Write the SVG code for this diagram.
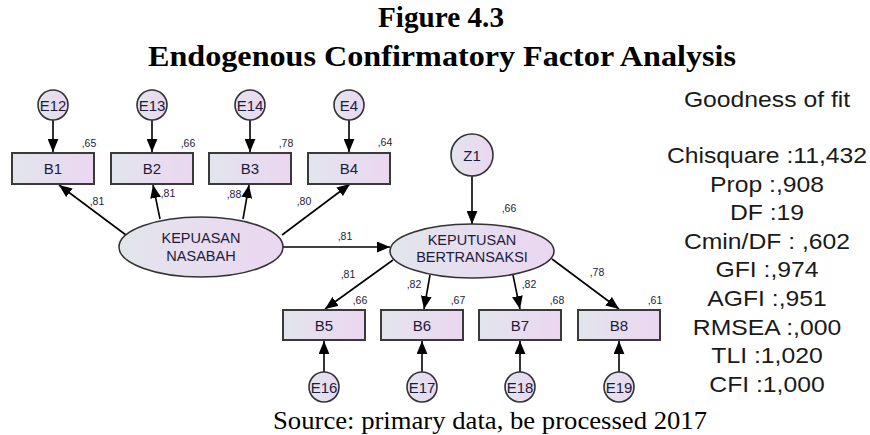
<svg xmlns="http://www.w3.org/2000/svg" width="870" height="435" viewBox="0 0 870 435">
  <defs>
    <linearGradient id="fillGrad" x1="0" y1="0" x2="1" y2="0">
      <stop offset="0" stop-color="#e2e5ec"/>
      <stop offset="1" stop-color="#ebd6f1"/>
    </linearGradient>
    <marker id="arrow" viewBox="0 0 12 10" refX="12" refY="5" markerWidth="13" markerHeight="11" markerUnits="userSpaceOnUse" orient="auto">
      <path d="M0,0 L12,5 L0,10 Z" fill="#000"/>
    </marker>
    <style>
      .box { fill: url(#fillGrad); stroke: #3a3a3a; stroke-width: 2; }
      .lat { fill: url(#fillGrad); stroke: #333; stroke-width: 1.6; }
      .err { fill: url(#fillGrad); stroke: #333; stroke-width: 1.6; }
      .lbl { font-family: "Liberation Sans", Arial, sans-serif; font-size: 15px; fill: #1c1c3a; text-anchor: middle; }
      .lat-lbl { font-family: "Liberation Sans", Arial, sans-serif; font-size: 14.5px; fill: #1c1c3a; text-anchor: middle; }
      .num { font-family: "Liberation Sans", Arial, sans-serif; font-size: 10.5px; fill: #1c1c3a; text-anchor: middle; }
      .edge { stroke: #000; stroke-width: 1.6; fill: none; marker-end: url(#arrow); }
      .title { font-family: "Liberation Serif", "Times New Roman", serif; font-weight: bold; font-size: 30px; fill: #000; text-anchor: middle; }
      .src { font-family: "Liberation Serif", "Times New Roman", serif; font-size: 25px; fill: #000; text-anchor: middle; }
      .fit { font-family: "Liberation Sans", Arial, sans-serif; font-size: 21.5px; fill: #1a1a1a; text-anchor: middle; }
    </style>
  </defs>

  <rect width="870" height="435" fill="#fff"/>

  <!-- Heading -->
  <text class="title" x="441" y="27" textLength="126" lengthAdjust="spacingAndGlyphs">Figure 4.3</text>
  <text class="title" x="442" y="66" font-size="31" textLength="588" lengthAdjust="spacingAndGlyphs">Endogenous Confirmatory Factor Analysis</text>

  <!-- Connectors -->
  <g id="connectors">
    <!-- error terms to top indicators -->
    <line class="edge" x1="53" y1="120" x2="53" y2="152"/>
    <line class="edge" x1="152" y1="120" x2="152" y2="152"/>
    <line class="edge" x1="250" y1="120" x2="250" y2="152"/>
    <line class="edge" x1="349" y1="120" x2="349" y2="152"/>
    <!-- KEPUASAN NASABAH loadings -->
    <line class="edge" x1="130" y1="238" x2="59" y2="185"/>
    <line class="edge" x1="160" y1="219" x2="153" y2="185"/>
    <line class="edge" x1="243" y1="219" x2="249" y2="185"/>
    <line class="edge" x1="282" y1="235" x2="350" y2="184"/>
    <!-- structural path -->
    <line class="edge" x1="283" y1="247" x2="390" y2="247"/>
    <!-- disturbance -->
    <line class="edge" x1="472" y1="176" x2="472" y2="224"/>
    <!-- KEPUTUSAN BERTRANSAKSI loadings -->
    <line class="edge" x1="393" y1="260" x2="325" y2="309"/>
    <line class="edge" x1="430" y1="275" x2="424" y2="309"/>
    <line class="edge" x1="513" y1="275" x2="520" y2="309"/>
    <line class="edge" x1="552" y1="259" x2="619" y2="309"/>
    <!-- error terms to bottom indicators -->
    <line class="edge" x1="324" y1="372" x2="324" y2="341"/>
    <line class="edge" x1="422" y1="372" x2="422" y2="341"/>
    <line class="edge" x1="520" y1="372" x2="520" y2="341"/>
    <line class="edge" x1="619" y1="372" x2="619" y2="341"/>
  </g>

  <!-- Path coefficients -->
  <g id="coefficients">
    <text class="num" x="97" y="205">,81</text>
    <text class="num" x="168" y="197">,81</text>
    <text class="num" x="234" y="198">,88</text>
    <text class="num" x="304" y="205">,80</text>
    <text class="num" x="345" y="240">,81</text>
    <text class="num" x="348" y="278">,81</text>
    <text class="num" x="414" y="288">,82</text>
    <text class="num" x="529" y="288">,82</text>
    <text class="num" x="597" y="276">,78</text>
    <!-- squared multiple correlations -->
    <text class="num" x="89" y="147">,65</text>
    <text class="num" x="188" y="147">,66</text>
    <text class="num" x="286" y="147">,78</text>
    <text class="num" x="385" y="146">,64</text>
    <text class="num" x="509" y="212">,66</text>
    <text class="num" x="360" y="304">,66</text>
    <text class="num" x="458" y="304">,67</text>
    <text class="num" x="557" y="304">,68</text>
    <text class="num" x="655" y="304">,61</text>
  </g>

  <!-- Top error terms -->
  <g id="E12"><circle class="err" cx="53" cy="105" r="15"/><text class="lbl" x="53" y="110.5">E12</text></g>
  <g id="E13"><circle class="err" cx="152" cy="105" r="15"/><text class="lbl" x="152" y="110.5">E13</text></g>
  <g id="E14"><circle class="err" cx="250" cy="105" r="15"/><text class="lbl" x="250" y="110.5">E14</text></g>
  <g id="E4"><circle class="err" cx="349" cy="105" r="15"/><text class="lbl" x="349" y="110.5">E4</text></g>

  <!-- Top indicators -->
  <g id="B1"><rect class="box" x="12" y="153" width="82" height="31"/><text class="lbl" x="53" y="174">B1</text></g>
  <g id="B2"><rect class="box" x="111" y="153" width="82" height="31"/><text class="lbl" x="152" y="174">B2</text></g>
  <g id="B3"><rect class="box" x="209" y="153" width="82" height="31"/><text class="lbl" x="250" y="174">B3</text></g>
  <g id="B4"><rect class="box" x="308" y="153" width="82" height="31"/><text class="lbl" x="349" y="174">B4</text></g>

  <!-- Latent variables -->
  <g id="KEPUASAN_NASABAH">
    <ellipse class="lat" cx="201" cy="247" rx="82" ry="30"/>
    <text class="lat-lbl" x="201" y="243">KEPUASAN</text>
    <text class="lat-lbl" x="201" y="261">NASABAH</text>
  </g>
  <g id="Z1"><circle class="err" cx="472" cy="155" r="21"/><text class="lbl" x="472" y="160.5">Z1</text></g>
  <g id="KEPUTUSAN_BERTRANSAKSI">
    <ellipse class="lat" cx="472" cy="251" rx="82" ry="27"/>
    <text class="lat-lbl" x="472" y="245">KEPUTUSAN</text>
    <text class="lat-lbl" x="472" y="262">BERTRANSAKSI</text>
  </g>

  <!-- Bottom indicators -->
  <g id="B5"><rect class="box" x="283" y="310" width="82" height="30"/><text class="lbl" x="324" y="330.5">B5</text></g>
  <g id="B6"><rect class="box" x="381" y="310" width="82" height="30"/><text class="lbl" x="422" y="330.5">B6</text></g>
  <g id="B7"><rect class="box" x="479" y="310" width="82" height="30"/><text class="lbl" x="520" y="330.5">B7</text></g>
  <g id="B8"><rect class="box" x="578" y="310" width="82" height="30"/><text class="lbl" x="619" y="330.5">B8</text></g>

  <!-- Bottom error terms -->
  <g id="E16"><circle class="err" cx="324" cy="387" r="15"/><text class="lbl" x="324" y="392.5">E16</text></g>
  <g id="E17"><circle class="err" cx="422" cy="387" r="15"/><text class="lbl" x="422" y="392.5">E17</text></g>
  <g id="E18"><circle class="err" cx="520" cy="387" r="15"/><text class="lbl" x="520" y="392.5">E18</text></g>
  <g id="E19"><circle class="err" cx="619" cy="387" r="15"/><text class="lbl" x="619" y="392.5">E19</text></g>

  <!-- Fit statistics -->
  <g id="fit" transform="translate(767,0) scale(1.15,1)">
    <text class="fit" x="0" y="107">Goodness of fit</text>
    <text class="fit" x="0" y="163">Chisquare :11,432</text>
    <text class="fit" x="0" y="192">Prop :,908</text>
    <text class="fit" x="0" y="220">DF :19</text>
    <text class="fit" x="0" y="249">Cmin/DF : ,602</text>
    <text class="fit" x="0" y="277">GFI :,974</text>
    <text class="fit" x="0" y="306">AGFI :,951</text>
    <text class="fit" x="0" y="335">RMSEA :,000</text>
    <text class="fit" x="0" y="363">TLI :1,020</text>
    <text class="fit" x="0" y="392">CFI :1,000</text>
  </g>

  <text class="src" x="490" y="429" textLength="434" lengthAdjust="spacingAndGlyphs">Source: primary data, be processed 2017</text>
</svg>
